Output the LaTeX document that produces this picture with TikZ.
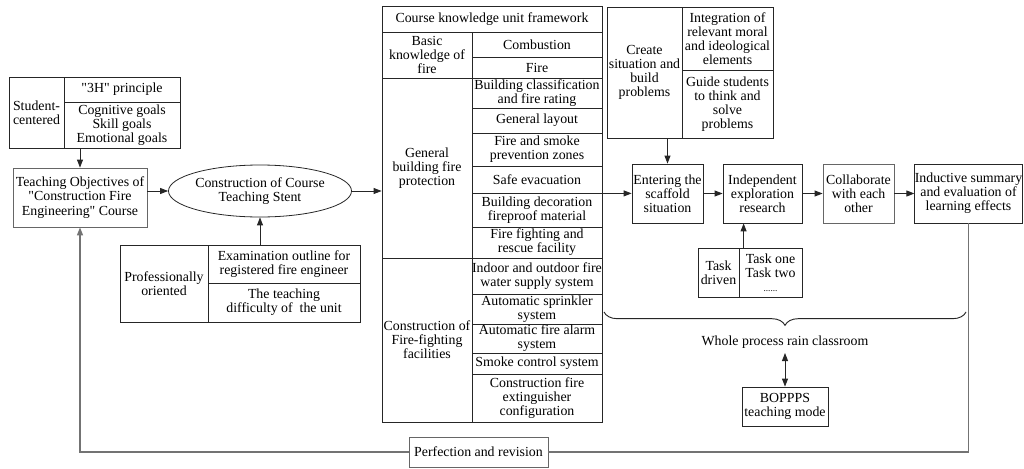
\documentclass[tikz,border=0pt]{standalone}
\usepackage{fontspec}
\setmainfont{Liberation Serif}
\usetikzlibrary{arrows.meta,shapes.geometric,decorations.pathreplacing}
\newcommand\fs{\fontsize{10.4pt}{10.6pt}\selectfont}
\newcommand\qq{\textquotedbl}
\newcommand\cellbox[7][]{\node[cell,#1,minimum width={(#5-#3)*0.75pt},minimum height={(#6-#4)*0.75pt}] (#2) at ({(#3+#5)/2},{(#4+#6)/2}) {#7};}
\begin{document}
\begin{tikzpicture}[x=0.75pt,y=-0.75pt,
  cell/.style={draw=black!85,line width=0.6pt,align=center,inner sep=0pt,font=\fs},
  graybox/.style={draw=black!60},
  tip/.tip={Triangle[length=6pt,width=4.5pt]},
  arr/.style={-tip,line width=0.7pt,draw=black!85},
  darr/.style={tip-tip,line width=0.7pt,draw=black!85},
  loopline/.style={line width=1pt,draw=black!55}]
\useasboundingbox (0,0) rectangle (1024,468);

% left group
\cellbox{stu}{9}{77}{64}{148}{Student-\\centered}
\cellbox{h3}{64}{77}{180}{102}{\qq 3H\qq{} principle}
\cellbox{goals}{64}{102}{180}{148}{Cognitive goals\\Skill goals\\Emotional goals}
\cellbox[graybox]{obj}{13}{168}{147}{227}{Teaching Objectives of\\\qq Construction Fire\\Engineering\qq{} Course}
\node[ellipse,draw=black!85,line width=0.6pt,minimum width=123pt,minimum height=39pt,inner sep=0pt,align=center,font=\fs] (ell) at (260,191) {Construction of Course\\Teaching Stent};
\cellbox{prof}{120}{245}{208}{322}{Professionally\\oriented}
\cellbox{exam}{208}{245}{360}{283}{Examination outline for\\registered fire engineer}
\cellbox{diff}{208}{283}{360}{322}{The teaching\\difficulty of\ \ the unit}

% knowledge table
\cellbox{head}{382}{6}{602}{32}{Course knowledge unit framework}
\cellbox{basic}{382}{32}{472}{78}{Basic\\knowledge of\\fire}
\cellbox{gen}{382}{78}{472}{258}{General\\building fire\\protection}
\cellbox{cons}{382}{258}{472}{422}{Construction of\\Fire-fighting\\facilities}
\cellbox{comb}{472}{32}{602}{57}{Combustion}
\cellbox{fire}{472}{57}{602}{78}{Fire}
\cellbox{bcls}{472}{78}{602}{108}{Building classification\\and fire rating}
\cellbox{layout}{472}{108}{602}{133}{General layout}
\cellbox{zones}{472}{133}{602}{166}{Fire and smoke\\prevention zones}
\cellbox{safe}{472}{166}{602}{193}{Safe evacuation}
\cellbox{deco}{472}{193}{602}{227}{Building decoration\\fireproof material}
\cellbox{rescue}{472}{227}{602}{258}{Fire fighting and\\rescue facility}
\cellbox{water}{472}{258}{602}{294}{Indoor and outdoor fire\\water supply system}
\cellbox{sprink}{472}{294}{602}{324}{Automatic sprinkler\\system}
\cellbox{alarm}{472}{324}{602}{353}{Automatic fire alarm\\system}
\cellbox{smoke}{472}{353}{602}{374}{Smoke control system}
\cellbox{ext}{472}{374}{602}{422}{Construction fire\\extinguisher\\configuration}

% create situation group
\cellbox{create}{607}{7}{682}{138}{Create\\situation and\\build\\problems}
\cellbox{integ}{682}{7}{773}{70}{Integration of\\relevant moral\\and ideological\\elements}
\cellbox{guide}{682}{70}{773}{138}{Guide students\\to think and\\solve\\problems}

% process
\cellbox{enter}{632}{164}{703}{223}{Entering the\\scaffold\\situation}
\cellbox{indep}{723}{164}{802}{223}{Independent\\exploration\\research}
\cellbox[graybox]{collab}{823}{164}{894}{223}{Collaborate\\with each\\other}
\cellbox{induct}{915}{164}{1022}{223}{Inductive summary\\and evaluation of\\learning effects}
\cellbox{task}{698}{248}{739}{297}{Task\\driven}
\cellbox{tasks}{739}{248}{802}{297}{Task one\\Task two\\{\fontsize{7pt}{10.6pt}\selectfont ......}}

\node[font=\fs] (whole) at (785,342) {Whole process rain classroom};
\cellbox{bop}{742}{387}{828}{426}{BOPPPS\\teaching mode}
\cellbox[graybox]{perf}{409}{437}{548}{467}{Perfection and revision}

% brace
\coordinate (bl) at (604,312);
\coordinate (br) at (966,312);
\draw[decorate,decoration={brace,mirror,amplitude=10pt},line width=0.7pt,draw=black!85] (bl) -- (br);

% connectors
\draw[arr] (obj.north |- goals.south) -- (obj.north);
\draw[arr] (obj.east |- ell.west) -- (ell.west);
\draw[arr] (ell.east) -- (ell.east -| gen.west);
\draw[arr] (ell.south |- exam.north) -- (ell.south);
\draw[arr] (safe.south east) -- (safe.south east -| enter.west);
\draw[arr] (enter.north |- guide.south) -- (enter.north);
\draw[arr] (enter) -- (indep);
\draw[arr] (indep) -- (collab);
\draw[arr] (collab) -- (induct);
\draw[arr] ([xshift=3.75pt]tasks.north west) -- ([xshift=3.75pt]tasks.north west |- indep.south);
\draw[darr] (whole) -- (bop);
\draw[loopline] (induct.south) -- (induct.south |- perf.east) -- (perf.east);
\draw[loopline,-tip] (perf.west) -- (perf.west -| obj.south) -- (obj.south);
\end{tikzpicture}
\end{document}
